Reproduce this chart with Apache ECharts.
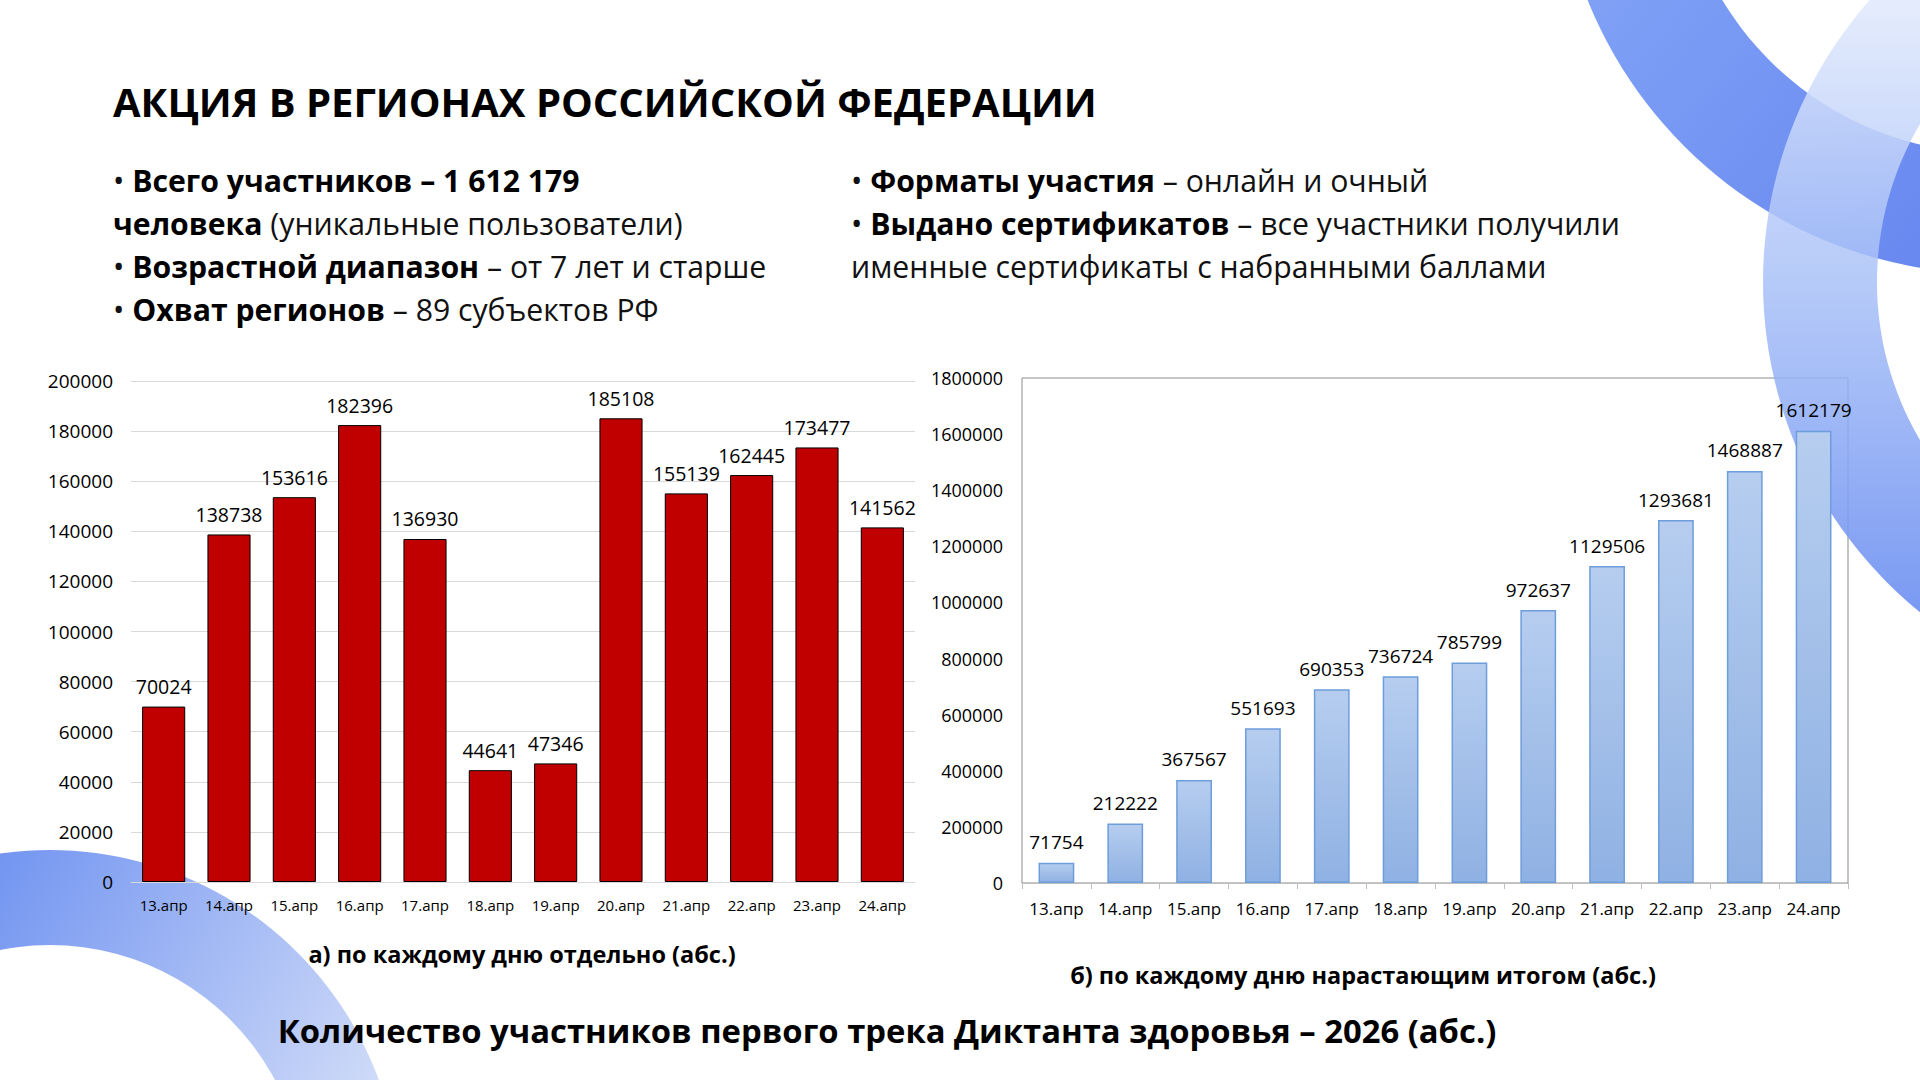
<!DOCTYPE html>
<html>
<head>
<meta charset="utf-8">
<title>Акция в регионах</title>
<script src="https://cdn.jsdelivr.net/npm/echarts@6/dist/echarts.min.js"></script>
<style>
  html, body { margin: 0; padding: 0; background: #fff; }
  #main { width: 1920px; height: 1080px; }
</style>
</head>
<body>
<div id="main"></div>
<script>
// данные
var days = ['13.апр', '14.апр', '15.апр', '16.апр', '17.апр', '18.апр',
            '19.апр', '20.апр', '21.апр', '22.апр', '23.апр', '24.апр'];
var perDay = [70024, 138738, 153616, 182396, 136930, 44641,
              47346, 185108, 155139, 162445, 173477, 141562];
var cumulative = [71754, 212222, 367567, 551693, 690353, 736724,
                  785799, 972637, 1129506, 1293681, 1468887, 1612179];

var font = '"Open Sans", "Noto Sans", sans-serif';

var chart = echarts.init(document.getElementById('main'), null, { renderer: 'svg' });

// без разделителей разрядов, как в оригинале
function plain(v) { return String(v); }

// декоративные дуги и текст слайда
var graphics = [
  {
    type: 'ring', z: 0, silent: true,
    shape: { cx: 1993, cy: -163, r: 437, r0: 316 },
    style: {
      fill: { type: 'linear', global: true, x: 1600, y: 0, x2: 1920, y2: 270,
        colorStops: [{ offset: 0, color: '#7fa0f5' }, { offset: 1, color: '#6888f0' }] }
    }
  },
  {
    type: 'ring', z: 1, silent: true,
    shape: { cx: 2189, cy: 282, r: 426, r0: 312 },
    style: {
      fill: { type: 'linear', global: true, x: 0, y: 0, x2: 0, y2: 680,
        colorStops: [
          { offset: 0, color: 'rgba(226,234,252,0.9)' },
          { offset: 0.42, color: 'rgba(165,190,247,0.82)' },
          { offset: 1, color: 'rgba(100,136,240,0.95)' }] }
    }
  },
  {
    type: 'ring', z: 0, silent: true,
    shape: { cx: 50, cy: 1200, r: 350, r0: 255 },
    style: {
      fill: { type: 'linear', global: true, x: 0, y: 850, x2: 400, y2: 1080,
        colorStops: [{ offset: 0, color: '#7395f1' }, { offset: 1, color: '#d2ddf8' }] }
    }
  },
  {
    type: 'text', z: 10, left: 113, top: 81,
    style: { text: 'АКЦИЯ В РЕГИОНАХ РОССИЙСКОЙ ФЕДЕРАЦИИ', font: 'bold 40px ' + font, fill: '#000' }
  }
];

// буллеты: [x, y, rich-текст]
var bullets = [
  [113, 180, '• {b|Всего участников – 1 612 179}'],
  [113, 223, '{b|человека} (уникальные пользователи)'],
  [113, 266, '• {b|Возрастной диапазон} – от 7 лет и старше'],
  [113, 309, '• {b|Охват регионов} – 89 субъектов РФ'],
  [851, 180, '• {b|Форматы участия} – онлайн и очный'],
  [851, 223, '• {b|Выдано сертификатов} – все участники получили'],
  [851, 266, 'именные сертификаты с набранными баллами']
];
bullets.forEach(function (b) {
  graphics.push({
    type: 'text', z: 10, x: b[0], y: b[1],
    style: {
      text: b[2], font: '30.2px ' + font, fill: '#111',
      verticalAlign: 'middle',
      rich: { b: { fontWeight: 'bold', fontSize: 30.2, fontFamily: font, fill: '#000' } }
    }
  });
});

graphics.push(
  { type: 'text', z: 10, x: 522, y: 954,
    style: { text: 'а) по каждому дню отдельно (абс.)', font: 'bold 23.5px ' + font, fill: '#000',
      align: 'center', verticalAlign: 'middle' } },
  { type: 'text', z: 10, x: 1363, y: 975,
    style: { text: 'б) по каждому дню нарастающим итогом (абс.)', font: 'bold 23.5px ' + font, fill: '#000',
      align: 'center', verticalAlign: 'middle' } },
  { type: 'text', z: 10, x: 887, y: 1030,
    style: { text: 'Количество участников первого трека Диктанта здоровья – 2026 (абс.)',
      font: 'bold 32.8px ' + font, fill: '#000', align: 'center', verticalAlign: 'middle' } }
);

var option = {
  backgroundColor: '#fff',
  animation: false,
  textStyle: { fontFamily: font },
  graphic: graphics,
  grid: [
    // а) по дням
    { left: 131, right: 1005, top: 381, bottom: 198 },
    // б) нарастающим итогом, с рамкой
    { left: 1022, right: 72, top: 378, bottom: 197, show: true,
      borderColor: '#8c8c8c', borderWidth: 1, backgroundColor: 'transparent' }
  ],
  xAxis: [
    {
      gridIndex: 0, type: 'category', data: days,
      axisLine: { lineStyle: { color: '#d9d9d9' } },
      axisTick: { show: false },
      axisLabel: { interval: 0, color: '#000', fontSize: 15, margin: 15 }
    },
    {
      gridIndex: 1, type: 'category', data: days,
      axisLine: { lineStyle: { color: '#bfbfbf' } },
      axisTick: { show: true, length: 6, lineStyle: { color: '#bfbfbf' } },
      axisLabel: { interval: 0, color: '#000', fontSize: 17, margin: 17 }
    }
  ],
  yAxis: [
    {
      gridIndex: 0, type: 'value', min: 0, max: 200000, interval: 20000,
      axisLine: { show: false }, axisTick: { show: false },
      splitLine: { lineStyle: { color: '#d9d9d9' } },
      axisLabel: { color: '#000', fontSize: 19, margin: 18, formatter: plain }
    },
    {
      gridIndex: 1, type: 'value', min: 0, max: 1800000, interval: 200000,
      axisLine: { show: false }, axisTick: { show: false },
      splitLine: { show: false },
      axisLabel: { color: '#000', fontSize: 18, margin: 19, formatter: plain }
    }
  ],
  series: [
    {
      name: 'по дням', type: 'bar', xAxisIndex: 0, yAxisIndex: 0,
      data: perDay, barCategoryGap: '34%', z: 3,
      itemStyle: { color: '#c00000', borderColor: '#000', borderWidth: 1 },
      label: { show: true, position: 'top', distance: 10, color: '#000', fontSize: 19.5 }
    },
    {
      name: 'итого', type: 'bar', xAxisIndex: 1, yAxisIndex: 1,
      data: cumulative, barCategoryGap: '48%', z: 3,
      itemStyle: {
        color: new echarts.graphic.LinearGradient(0, 0, 0, 1, [
          { offset: 0, color: '#b6cdef' },
          { offset: 1, color: '#8fb1e3' }
        ]),
        borderColor: '#6e9ddb', borderWidth: 1.5
      },
      label: { show: true, position: 'top', distance: 11, color: '#000', fontSize: 19 }
    }
  ]
};

chart.setOption(option);
</script>
</body>
</html>
